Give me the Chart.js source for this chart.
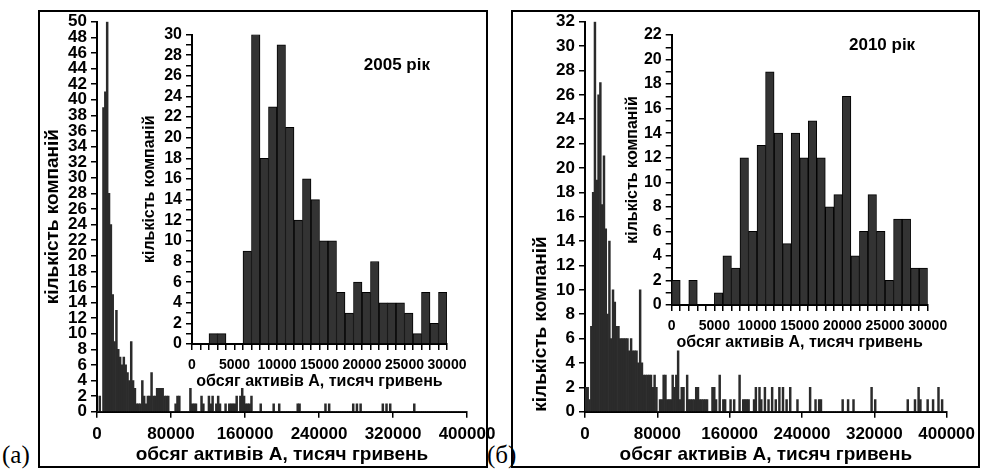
<!DOCTYPE html>
<html>
<head>
<meta charset="utf-8">
<script src="https://cdn.jsdelivr.net/npm/chart.js@4.4.0/dist/chart.umd.min.js"></script>
<style>
  body { margin: 0; background: #fff; width: 981px; height: 470px; position: relative; overflow: hidden }
  canvas { position: absolute; left: 0; top: 0 }
  .box { position: absolute; border: 2px solid #000; box-sizing: border-box }
  .tag { position: absolute; font-family: 'Liberation Serif', 'Times New Roman', serif; font-size: 25px; line-height: 25px; color: #000 }
</style>
</head>
<body>
<div class="box" style="left:38px;top:10px;width:450px;height:458px"></div>
<div class="box" style="left:511px;top:10px;width:469px;height:458px"></div>
<div class="tag" style="left:2px;top:442px">(а)</div>
<div class="tag" style="left:487px;top:442px">(б)</div>
<canvas id="main2005" width="981" height="470"></canvas>
<canvas id="inset2005" width="981" height="470"></canvas>
<canvas id="main2010" width="981" height="470"></canvas>
<canvas id="inset2010" width="981" height="470"></canvas>
<script>
// counts per bin, main histograms: bins of 2000 from 0 to 400000
const bins2005 = [
  0, 2, 0, 39, 41, 50, 28, 24, 15, 9, 13, 8, 7, 6, 7, 6, 5, 4, 9, 4,
  3, 1, 1, 1, 4, 2, 1, 2, 2, 5, 2, 2, 3, 3, 3, 3, 2, 2, 2, 0,
  0, 0, 1, 2, 2, 0, 0, 0, 0, 0, 3, 1, 1, 1, 0, 0, 2, 1, 0, 0,
  2, 1, 2, 0, 1, 2, 1, 0, 0, 1, 0, 1, 1, 1, 1, 2, 0, 2, 3, 2,
  1, 1, 1, 2, 0, 0, 0, 0, 1, 0, 0, 0, 0, 0, 0, 1, 0, 0, 1, 0,
  0, 0, 0, 0, 0, 0, 0, 0, 1, 1, 0, 0, 0, 0, 0, 0, 0, 0, 0, 0,
  0, 0, 0, 1, 0, 1, 0, 0, 0, 0, 0, 0, 0, 0, 0, 0, 0, 0, 1, 0,
  1, 0, 1, 0, 0, 0, 0, 0, 0, 0, 0, 0, 0, 0, 1, 0, 1, 0, 1, 0,
  0, 0, 0, 0, 0, 0, 0, 0, 0, 0, 0, 1, 0, 0, 0, 0, 0, 0, 0, 0,
  0, 0, 0, 0, 0, 0, 0, 0, 0, 0, 0, 0, 0, 0, 0, 0, 0, 0, 0, 0
]
const bins2010 = [
  2, 2, 1, 7, 18, 32, 19, 26, 27, 17, 21, 15, 8, 14, 6, 10, 9, 7, 7, 6,
  6, 6, 6, 6, 5, 6, 5, 5, 5, 4, 10, 4, 3, 3, 3, 3, 3, 2, 3, 2,
  0, 1, 1, 3, 3, 1, 1, 1, 3, 2, 3, 5, 1, 2, 2, 0, 3, 1, 1, 1,
  1, 2, 2, 1, 1, 1, 1, 1, 0, 0, 2, 2, 1, 0, 3, 0, 1, 1, 0, 0,
  1, 0, 1, 0, 0, 3, 0, 1, 1, 1, 1, 0, 0, 1, 2, 0, 2, 1, 0, 2,
  0, 1, 0, 2, 0, 1, 0, 2, 0, 2, 0, 1, 0, 2, 0, 0, 0, 1, 0, 0,
  0, 0, 0, 0, 2, 0, 0, 1, 0, 1, 1, 0, 0, 0, 0, 0, 0, 0, 0, 0,
  0, 0, 1, 0, 0, 1, 0, 0, 1, 0, 0, 0, 0, 0, 0, 0, 0, 0, 2, 0,
  1, 0, 0, 0, 0, 0, 0, 0, 0, 0, 0, 0, 0, 0, 0, 0, 0, 0, 1, 0,
  0, 0, 1, 0, 2, 1, 0, 0, 0, 1, 0, 0, 1, 0, 0, 2, 0, 1, 0, 0
]
// insets: bins of 1000 from 0 to 30000
const small2005 = [0, 0, 1, 1, 0, 0, 9, 30, 18, 23, 29, 21, 12, 16, 14, 10, 10, 5, 3, 6, 5, 8, 4, 4, 4, 3, 1, 5, 2, 5]
const small2010 = [2, 0, 2, 0, 0, 1, 4, 3, 12, 6, 13, 19, 14, 5, 14, 12, 15, 12, 8, 9, 17, 4, 6, 9, 6, 2, 7, 7, 3, 3]

const mainBin = 2000
const smallBin = 1000
const yTitle = 'кількість компаній'
const xTitle = 'обсяг активів А, тисяч гривень'
const family = "'Liberation Sans', Arial, sans-serif"

const toPoints = (counts, w) => counts.map((c, i) => ({ x: (i + 0.5) * w, y: c }))
const bold = (size) => ({ family, size, weight: 'bold' })

const notePlugin = {
  id: 'note',
  afterDraw(chart, args, opts) {
    if (!opts.text) return
    const { ctx, scales } = chart
    ctx.save()
    ctx.font = `bold 17px ${family}`
    ctx.fillStyle = '#000'
    ctx.textAlign = 'center'
    ctx.textBaseline = 'middle'
    ctx.fillText(opts.text, scales.x.getPixelForValue(opts.x), scales.y.getPixelForValue(opts.y))
    ctx.restore()
  }
}

function histogram(id, c) {
  return new Chart(document.getElementById(id), {
    type: 'bar',
    data: {
      datasets: [{
        data: toPoints(c.counts, c.bin),
        backgroundColor: c.fill,
        borderColor: '#000',
        borderWidth: c.border,
        barPercentage: 1,
        categoryPercentage: 1
      }]
    },
    options: {
      responsive: false,
      animation: false,
      devicePixelRatio: 1,
      layout: { padding: c.pad },
      plugins: { legend: { display: false }, tooltip: { enabled: false }, note: c.note || {} },
      scales: {
        x: {
          type: 'linear', min: 0, max: c.xMax, offset: false,
          grid: { drawOnChartArea: false, offset: false, color: '#000', lineWidth: 1.5, tickLength: 6 },
          border: { color: '#000', width: 2 },
          ticks: {
            stepSize: c.xStep, autoSkip: false, maxRotation: 0, minRotation: 0, maxTicksLimit: 500,
            padding: c.xPad, color: '#000', font: bold(c.xTick),
            callback: v => (v % c.xEvery === 0 ? String(v) : '')
          },
          title: { display: true, text: xTitle, color: '#000', font: bold(c.titleSize), padding: { top: 0, bottom: 0 } },
          afterFit: s => { s.height = c.xHeight }
        },
        y: {
          min: 0, max: c.yMax,
          grid: { drawOnChartArea: false, color: '#000', lineWidth: 1.5, tickLength: 6 },
          border: { color: '#000', width: 2 },
          ticks: {
            stepSize: c.yStep, autoSkip: false, maxTicksLimit: 500,
            padding: 4, color: '#000', font: bold(c.yTick),
            callback: v => (v % 2 === 0 ? String(v) : '')
          },
          title: { display: true, text: yTitle, align: c.yAlign || 'center', color: '#000', font: bold(c.titleSize), padding: { top: 0, bottom: 0 } },
          afterFit: s => { s.width = c.yWidth }
        }
      }
    },
    plugins: [notePlugin]
  })
}

histogram('main2005', {
  counts: bins2005, bin: mainBin, fill: '#2b2b2b', border: 0,
  xMax: 400000, xStep: 80000, xEvery: 80000, yMax: 50, yStep: 2,
  xTick: 17, yTick: 17, titleSize: 19, xPad: 6, xHeight: 54.7, yWidth: 55.4,
  pad: { left: 41.6, top: 21.7, right: 514, bottom: 3.6 }
})
histogram('inset2005', {
  counts: small2005, bin: smallBin, fill: '#333', border: 1,
  xMax: 30000, xStep: 1000, xEvery: 5000, yMax: 30, yStep: 1,
  xTick: 14, yTick: 16, titleSize: 16, xPad: 7, xHeight: 47.1, yWidth: 51.6,
  pad: { left: 140.4, top: 34.5, right: 534, bottom: 78.9 },
  note: { text: '2005 рік', x: 24100, y: 27 }
})
histogram('main2010', {
  counts: bins2010, bin: mainBin, fill: '#2b2b2b', border: 0,
  xMax: 400000, xStep: 80000, xEvery: 80000, yMax: 32, yStep: 2,
  xTick: 17, yTick: 17, titleSize: 19, xPad: 6, xHeight: 54.7, yWidth: 55.4, yAlign: 'start',
  pad: { left: 529.6, top: 21.7, right: 27.5, bottom: 3.6 }
})
histogram('inset2010', {
  counts: small2010, bin: smallBin, fill: '#333', border: 1,
  xMax: 30000, xStep: 1000, xEvery: 5000, yMax: 22, yStep: 1,
  xTick: 14, yTick: 16, titleSize: 16, xPad: 7, xHeight: 47.1, yWidth: 48.8,
  pad: { left: 622.9, top: 35, right: 53.3, bottom: 117.9 },
  note: { text: '2010 рік', x: 24650, y: 21.2 }
})
</script>
</body>
</html>
